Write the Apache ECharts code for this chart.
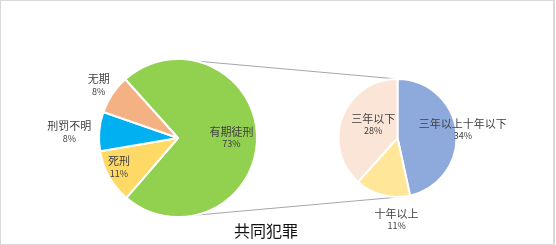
<!DOCTYPE html>
<html>
<head>
<meta charset="utf-8">
<script src="https://cdn.jsdelivr.net/npm/echarts@6/dist/echarts.min.js"></script>
<style>
  html, body { margin: 0; padding: 0; background: #fff; }
  #frame { position: absolute; left: 0; top: 0; width: 555px; height: 245px; box-sizing: border-box; border: 1px solid #d9d9d9; border-right-width: 2px; }
  #chart { position: absolute; left: 0; top: 0; width: 556px; height: 245px; }
</style>
</head>
<body>
<div id="chart"></div>
<div id="frame"></div>
<script>
// 共同犯罪 — sentence types, with 有期徒刑 broken down by term length
const mainNames = ['有期徒刑', '死刑', '刑罚不明', '无期'];
const mainValues = [73, 11, 8, 8];
const mainColors = ['#92D050', '#FFD966', '#00B0F0', '#F4B183'];

const subNames = ['三年以上十年以下', '十年以上', '三年以下'];
const subValues = [34, 11, 28];
const subColors = ['#8EA9DB', '#FFE699', '#FBE5D6'];

const titleText = '共同犯罪';

const MAIN_C = [178, 138], MAIN_R = 79, MAIN_START = 132;
const SUB_C = [397.5, 138], SUB_R = 59, SUB_START = 90;

// label nudges relative to the library's default label anchor
const mainNudge = [[11, 0], [-22, 8], [42, 2], [45, -1]];
const subNudge = [[33, -5], [75, 10], [6, -2]];

const chart = echarts.init(document.getElementById('chart'), null, { renderer: 'canvas' });

function labelCfg() {
  return {
    color: '#404040',
    formatter: p => '{n|' + p.name + '}\n{v|' + p.value + '%}',
    rich: {
      n: { fontSize: 11, fontFamily: 'Noto Sans CJK SC', color: '#404040', lineHeight: 13, align: 'center' },
      v: { fontSize: 9, fontFamily: 'Noto Sans CJK SC', color: '#404040', lineHeight: 12, align: 'center' }
    }
  };
}

// connector lines from the main pie to the breakdown pie
function pt(c, r, deg) {
  const a = deg * Math.PI / 180;
  return [c[0] + r * Math.cos(a), c[1] - r * Math.sin(a)];
}
const t1 = pt(MAIN_C, MAIN_R, 77), t2 = pt(SUB_C, SUB_R, 90);
const b1 = pt(MAIN_C, MAIN_R, -78), b2 = pt(SUB_C, SUB_R, -82);

chart.setOption({
  animation: false,
  title: {
    text: titleText,
    left: 229, top: 218,
    textStyle: { fontSize: 16, fontWeight: 'normal', color: '#111', fontFamily: 'Noto Sans CJK SC' }
  },
  graphic: [
    { type: 'line', shape: { x1: t1[0], y1: t1[1], x2: t2[0], y2: t2[1] }, style: { stroke: '#a6a6a6', lineWidth: 1 }, z: -1 },
    { type: 'line', shape: { x1: b1[0], y1: b1[1], x2: b2[0], y2: b2[1] }, style: { stroke: '#a6a6a6', lineWidth: 1 }, z: -1 }
  ],
  series: [
    {
      type: 'pie',
      center: MAIN_C,
      radius: MAIN_R,
      startAngle: MAIN_START,
      clockwise: true,
      avoidLabelOverlap: false,
      itemStyle: { borderColor: '#fff', borderWidth: 2 },
      label: labelCfg(),
      labelLine: { show: false },
      labelLayout: p => ({ dx: mainNudge[p.dataIndex][0], dy: mainNudge[p.dataIndex][1] }),
      data: mainNames.map((n, i) => ({
        name: n, value: mainValues[i],
        itemStyle: { color: mainColors[i] },
        label: { position: i < 2 ? 'inside' : 'outside' }
      }))
    },
    {
      type: 'pie',
      center: SUB_C,
      radius: SUB_R,
      startAngle: SUB_START,
      clockwise: true,
      avoidLabelOverlap: false,
      itemStyle: { borderColor: '#fff', borderWidth: 2 },
      label: labelCfg(),
      labelLine: { show: false },
      labelLayout: p => ({ dx: subNudge[p.dataIndex][0], dy: subNudge[p.dataIndex][1] }),
      data: subNames.map((n, i) => ({
        name: n, value: subValues[i],
        itemStyle: { color: subColors[i] },
        label: { position: i === 1 ? 'outside' : 'inside' }
      }))
    }
  ]
});
</script>
</body>
</html>
